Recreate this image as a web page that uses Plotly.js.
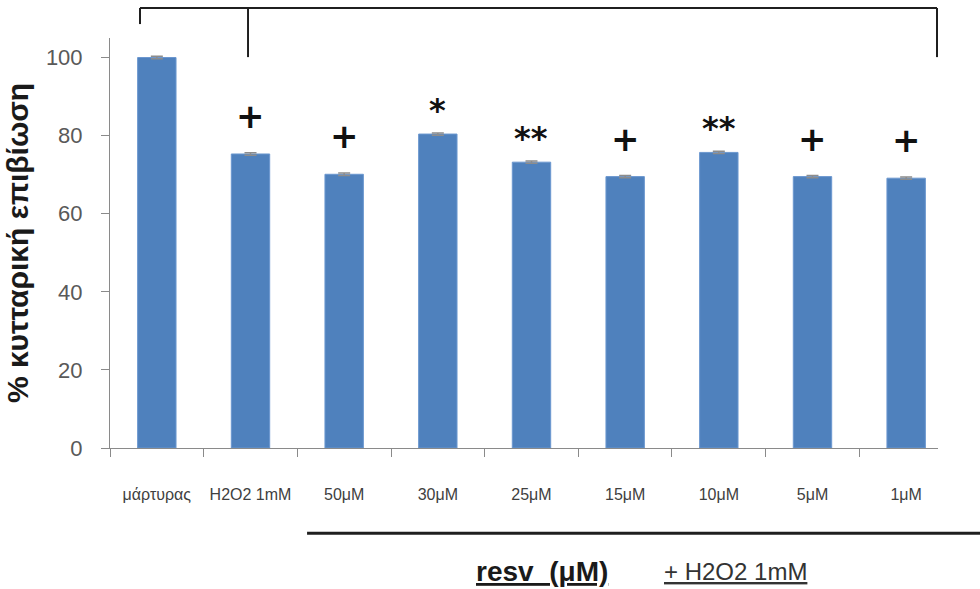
<!DOCTYPE html>
<html>
<head>
<meta charset="utf-8">
<script src="https://cdn.plot.ly/plotly-3.0.1.min.js"></script>
<style>html,body{margin:0;padding:0;background:#fff;}#chart{width:980px;height:589px;}</style>
</head>
<body>
<div id="chart"></div>
<script>
// ---- data ----
const categories = ['μάρτυρας', 'H2O2 1mM', '50μM', '30μM', '25μM', '15μM', '10μM', '5μM', '1μM'];
const survival = [100, 75.3, 70.1, 80.4, 73.2, 69.5, 75.7, 69.5, 69.1];
const errors = [0.3, 0.3, 0.3, 0.3, 0.3, 0.3, 0.3, 0.3, 0.3];
const significance = ['', '+', '+', '*', '**', '+', '**', '+', '+'];
const yTicks = [0, 20, 40, 60, 80, 100];

const sans = 'Liberation Sans, Arial, sans-serif';

const trace = {
  type: 'bar',
  x: categories,
  y: survival,
  marker: {color: '#4f81bd', line: {color: '#6b97cf', width: 1}},
  width: 0.41,
  error_y: {type: 'data', array: errors, visible: true, color: '#8c8c8c', thickness: 1.5, width: 6},
  hoverinfo: 'x+y'
};

const annotations = [];
categories.forEach((c, i) => {
  const s = significance[i];
  if (!s) return;
  const isPlus = s === '+';
  annotations.push({
    x: c, y: survival[i], xref: 'x', yref: 'y',
    text: s, showarrow: false,
    xanchor: 'center', yanchor: 'middle',
    yshift: isPlus ? 38 : 24,
    font: {family: 'DejaVu Sans, sans-serif', size: isPlus ? 34 : 32, color: '#111', weight: 'bold'}
  });
});
annotations.push({
  xref: 'paper', yref: 'paper', x: 0.522, y: -0.301, showarrow: false,
  xanchor: 'center', yanchor: 'middle',
  text: '<b><u>resv&nbsp;&nbsp;(μM)</u></b>',
  font: {family: sans, size: 28, color: '#1a1a1a'}
});
annotations.push({
  xref: 'paper', yref: 'paper', x: 0.756, y: -0.301, showarrow: false,
  xanchor: 'center', yanchor: 'middle',
  text: '<u>+ H2O2 1mM</u>',
  font: {family: sans, size: 24, color: '#333'}
});

const lineStyle = {color: '#1f1f1f', width: 2};
const shapes = [
  {type: 'line', xref: 'paper', yref: 'paper', x0: 0.0362, x1: 0.9988, y0: 1.0732, y1: 1.0732, line: lineStyle},
  {type: 'line', xref: 'paper', yref: 'paper', x0: 0.0362, x1: 0.0362, y0: 1.0732, y1: 1.034, line: lineStyle},
  {type: 'line', xref: 'paper', yref: 'paper', x0: 0.1667, x1: 0.1667, y0: 1.0732, y1: 0.9534, line: lineStyle},
  {type: 'line', xref: 'paper', yref: 'paper', x0: 0.9988, x1: 0.9988, y0: 1.0732, y1: 0.9534, line: lineStyle},
  {type: 'line', xref: 'paper', yref: 'paper', x0: 0.238, x1: 1.06, y0: -0.208, y1: -0.208, line: {color: '#1f1f1f', width: 3}}
];

const layout = {
  width: 980, height: 589,
  margin: {l: 110, r: 42, t: 38, b: 141},
  paper_bgcolor: '#fff', plot_bgcolor: '#fff',
  showlegend: false,
  xaxis: {
    type: 'category',
    range: [-0.5, 8.34],
    showline: true, linecolor: '#8a8a8a', linewidth: 1,
    ticks: 'outside', tickson: 'boundaries', ticklen: 8, tickcolor: '#8a8a8a',
    tickangle: 0,
    ticklabelstandoff: 32,
    tickfont: {family: sans, size: 16, color: '#404040'},
    showgrid: false, zeroline: false
  },
  yaxis: {
    range: [0, 105],
    tickvals: yTicks,
    showline: true, linecolor: '#8a8a8a', linewidth: 1,
    ticks: 'outside', ticklen: 8, tickcolor: '#8a8a8a',
    ticklabelstandoff: 14,
    tickfont: {family: sans, size: 22, color: '#595959'},
    showgrid: false, zeroline: false,
    title: {text: '% κυτταρική επιβίωση', standoff: 8,
            font: {family: sans, size: 30, color: '#1a1a1a', weight: 'bold'}}
  },
  annotations: annotations,
  shapes: shapes
};

Plotly.newPlot('chart', [trace], layout, {displayModeBar: false, staticPlot: true});
</script>
</body>
</html>
